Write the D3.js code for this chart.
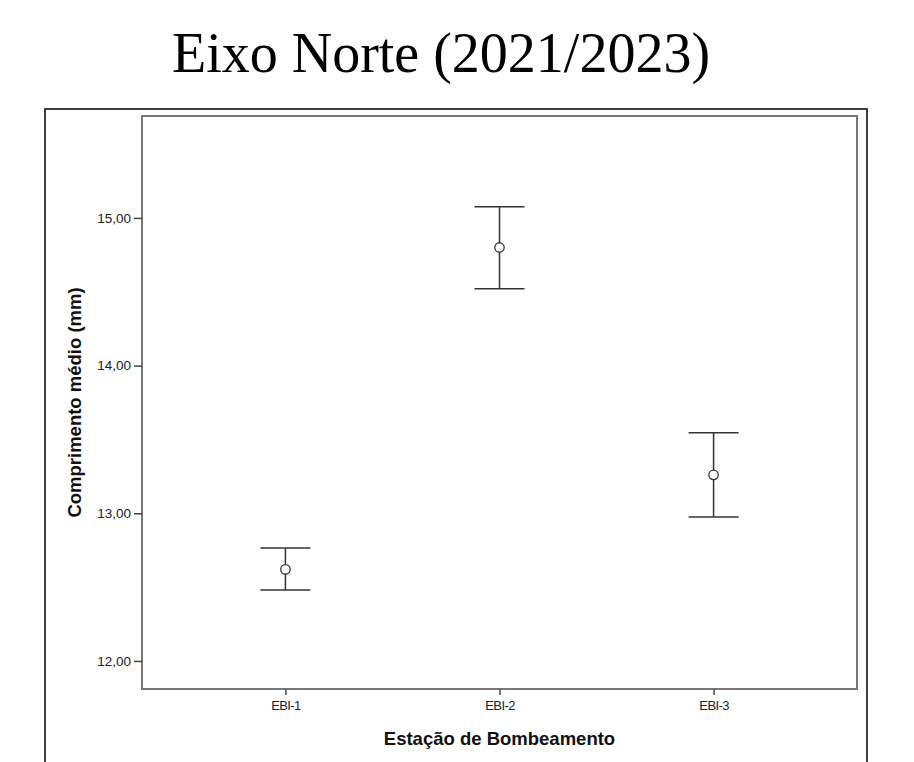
<!DOCTYPE html>
<html>
<head>
<meta charset="utf-8">
<script src="https://cdn.jsdelivr.net/npm/d3@7"></script>
<style>
  body { margin: 0; background: #fff; }
  svg { display: block; }
</style>
</head>
<body>
<svg id="chart" width="914" height="762"></svg>
<script>
// data
const stations = ['EBI-1', 'EBI-2', 'EBI-3']
const means = [12.62, 14.80, 13.26]
const lower = [12.48, 14.52, 12.975]
const upper = [12.765, 15.075, 13.545]
const yTicks = [12, 13, 14, 15]

const width = 914
const height = 762
const plotBox = {left: 142, top: 116, right: 857, bottom: 689}

const svg = d3.select('#chart')

svg.append('rect')
  .attr('width', width)
  .attr('height', height)
  .attr('fill', '#fff')

// title
svg.append('text')
  .attr('x', (169 + 713) / 2)
  .attr('y', 72)
  .attr('text-anchor', 'middle')
  .attr('font-family', '"Liberation Serif", "DejaVu Serif", serif')
  .attr('font-size', 56)
  .attr('fill', '#000')
  .text('Eixo Norte (2021/2023)')

// outer frame (bottom edge cut off)
svg.append('rect')
  .attr('x', 45)
  .attr('y', 109)
  .attr('width', 822)
  .attr('height', 700)
  .attr('fill', 'none')
  .attr('stroke', '#111')
  .attr('stroke-width', 1.6)

const x = d3.scalePoint()
  .domain(stations)
  .range([plotBox.left, plotBox.right])
  .padding(0.67)

const y = d3.scaleLinear()
  .domain([11.81, 15.69])
  .range([plotBox.bottom, plotBox.top])

const ptBR = d3.formatLocale({decimal: ',', thousands: '.', grouping: [3], currency: ['', '']})

// inner plot frame
svg.append('rect')
  .attr('x', plotBox.left)
  .attr('y', plotBox.top)
  .attr('width', plotBox.right - plotBox.left)
  .attr('height', plotBox.bottom - plotBox.top)
  .attr('fill', 'none')
  .attr('stroke', '#777')
  .attr('stroke-width', 2)

// y axis
const yAxis = svg.append('g')
  .attr('transform', `translate(${plotBox.left}, 0)`)
  .call(d3.axisLeft(y).tickValues(yTicks).tickFormat(ptBR.format('.2f')).tickSize(8).tickPadding(3))
yAxis.select('.domain').remove()
yAxis.selectAll('.tick line').attr('stroke', '#444').attr('stroke-width', 1.5)
yAxis.selectAll('.tick text')
  .attr('font-family', '"Liberation Sans", Arial, sans-serif')
  .attr('font-size', 13.5)
  .attr('fill', '#222')

// x axis
const xAxis = svg.append('g')
  .attr('transform', `translate(0, ${plotBox.bottom})`)
  .call(d3.axisBottom(x).tickSize(6).tickPadding(6))
xAxis.select('.domain').remove()
xAxis.selectAll('.tick line').attr('stroke', '#444').attr('stroke-width', 1.5)
xAxis.selectAll('.tick text')
  .attr('font-family', '"Liberation Sans", Arial, sans-serif')
  .attr('font-size', 13)
  .attr('letter-spacing', -0.6)
  .attr('fill', '#222')

// axis titles
svg.append('text')
  .attr('transform', `translate(81, ${(plotBox.top + plotBox.bottom) / 2}) rotate(-90)`)
  .attr('text-anchor', 'middle')
  .attr('font-family', '"Liberation Sans", Arial, sans-serif')
  .attr('font-weight', 'bold')
  .attr('font-size', 18.5)
  .attr('fill', '#111')
  .text('Comprimento médio (mm)')

svg.append('text')
  .attr('x', (plotBox.left + plotBox.right) / 2)
  .attr('y', 745)
  .attr('text-anchor', 'middle')
  .attr('font-family', '"Liberation Sans", Arial, sans-serif')
  .attr('font-weight', 'bold')
  .attr('font-size', 18.5)
  .attr('fill', '#111')
  .text('Estação de Bombeamento')

// error bars
const rows = stations.map((s, i) => ({station: s, mean: means[i], lo: lower[i], hi: upper[i]}))
const capHalf = 25

const bars = svg.append('g')
  .selectAll('g')
  .data(rows)
  .join('g')
  .attr('stroke', '#333')
  .attr('stroke-width', 1.5)
  .attr('fill', 'none')

bars.append('line')
  .attr('x1', d => x(d.station))
  .attr('x2', d => x(d.station))
  .attr('y1', d => y(d.hi))
  .attr('y2', d => y(d.lo))

bars.append('line')
  .attr('x1', d => x(d.station) - capHalf)
  .attr('x2', d => x(d.station) + capHalf)
  .attr('y1', d => y(d.hi))
  .attr('y2', d => y(d.hi))

bars.append('line')
  .attr('x1', d => x(d.station) - capHalf)
  .attr('x2', d => x(d.station) + capHalf)
  .attr('y1', d => y(d.lo))
  .attr('y2', d => y(d.lo))

bars.append('circle')
  .attr('cx', d => x(d.station))
  .attr('cy', d => y(d.mean))
  .attr('r', 4.7)
  .attr('fill', '#fff')
  .attr('stroke-width', 1.3)
</script>
</body>
</html>
